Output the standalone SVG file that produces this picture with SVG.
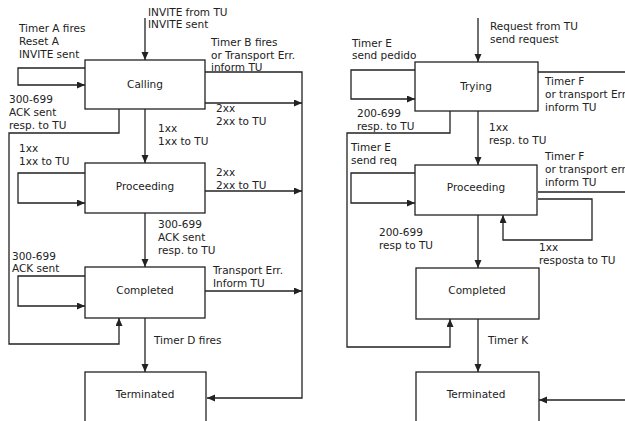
<svg xmlns="http://www.w3.org/2000/svg" width="625" height="421" viewBox="0 0 625 421">
<defs>
<marker id="arr" markerUnits="userSpaceOnUse" markerWidth="9" markerHeight="8" refX="8" refY="3.5" orient="auto">
<path d="M0,0 L8,3.5 L0,7 z" fill="#222"/>
</marker>
<style>
.box{fill:#fff;stroke:#222;stroke-width:1.3}
.c{fill:none;stroke:#222;stroke-width:1.3}
.a{marker-end:url(#arr)}
text{font-family:"DejaVu Sans",Verdana,sans-serif;font-size:10.5px;fill:#222}
.m{text-anchor:middle}
</style>
</defs>
<rect width="625" height="421" fill="#fff"/>
<g id="connectors">
<path class="c a" d="M145,18 L145,60"/>
<path class="c a" d="M85,68 L18,68 L18,85 L85,85"/>
<path class="c a" d="M119,109 L119,133 L9,133 L9,344 L119,344 L119,318"/>
<path class="c a" d="M205,72 L302,72 L302,398 L207,398"/>
<path class="c a" d="M205,103 L302,103"/>
<path class="c a" d="M145,109 L145,163"/>
<path class="c a" d="M85,173 L18,173 L18,203 L85,203"/>
<path class="c a" d="M205,191 L302,191"/>
<path class="c a" d="M145,213 L145,267"/>
<path class="c a" d="M85,276 L18,276 L18,306 L85,306"/>
<path class="c a" d="M205,291 L302,291"/>
<path class="c a" d="M145,318 L145,372"/>
<path class="c a" d="M478,18 L478,62"/>
<path class="c a" d="M415,70 L351,70 L351,99 L415,99"/>
<path class="c a" d="M450,111 L450,133 L347,133 L347,347 L450,347 L450,319"/>
<path class="c" d="M538,72 L625,72"/>
<path class="c a" d="M478,111 L478,165"/>
<path class="c a" d="M415,173 L351,173 L351,203 L415,203"/>
<path class="c" d="M538,192 L625,192"/>
<path class="c a" d="M538,199 L592,199 L592,240 L503,240 L503,215"/>
<path class="c a" d="M478,215 L478,268"/>
<path class="c a" d="M478,319 L478,372"/>
<path class="c a" d="M625,400 L539,400"/>
</g>
<g id="labels">
<text x="148" y="16">INVITE from TU</text>
<text x="148" y="28">INVITE sent</text>
<text x="19" y="32">Timer A fires</text>
<text x="19" y="45">Reset A</text>
<text x="19" y="58">INVITE sent</text>
<text x="211" y="46">Timer B fires</text>
<text x="211" y="59">or Transport Err.</text>
<text x="211" y="71">inform TU</text>
<text x="9" y="103">300-699</text>
<text x="9" y="116">ACK sent</text>
<text x="9" y="129">resp. to TU</text>
<text x="216" y="112">2xx</text>
<text x="216" y="125">2xx to TU</text>
<text x="158" y="132">1xx</text>
<text x="158" y="145">1xx to TU</text>
<text x="19" y="152">1xx</text>
<text x="19" y="165">1xx to TU</text>
<text x="216" y="176">2xx</text>
<text x="216" y="189">2xx to TU</text>
<text x="158" y="228">300-699</text>
<text x="158" y="241">ACK sent</text>
<text x="158" y="254">resp. to TU</text>
<text x="12" y="260">300-699</text>
<text x="12" y="272">ACK sent</text>
<text x="213" y="274">Transport Err.</text>
<text x="213" y="287">Inform TU</text>
<text x="154" y="344">Timer D fires</text>
<text x="490" y="30">Request from TU</text>
<text x="490" y="43">send request</text>
<text x="352" y="47">Timer E</text>
<text x="352" y="59">send pedido</text>
<text x="545" y="85">Timer F</text>
<text x="545" y="98">or transport Err</text>
<text x="545" y="111">inform TU</text>
<text x="357" y="117">200-699</text>
<text x="357" y="130">resp. to TU</text>
<text x="489" y="131">1xx</text>
<text x="489" y="144">resp. to TU</text>
<text x="351" y="151">Timer E</text>
<text x="351" y="164">send req</text>
<text x="545" y="160">Timer F</text>
<text x="545" y="173">or transport err</text>
<text x="545" y="186">inform TU</text>
<text x="379" y="236">200-699</text>
<text x="379" y="249">resp to TU</text>
<text x="539" y="251">1xx</text>
<text x="539" y="264">resposta to TU</text>
<text x="488" y="344">Timer K</text>
</g>
<g id="calling"><rect class="box" x="85" y="60" width="120" height="49"/><text class="m" x="145" y="88">Calling</text></g>
<g id="proceeding"><rect class="box" x="85" y="163" width="120" height="50"/><text class="m" x="145" y="190">Proceeding</text></g>
<g id="completed"><rect class="box" x="85" y="267" width="120" height="51"/><text class="m" x="145" y="294">Completed</text></g>
<g id="terminated"><rect class="box" x="85" y="372" width="121" height="60"/><text class="m" x="145" y="398">Terminated</text></g>
<g id="trying"><rect class="box" x="415" y="62" width="123" height="49"/><text class="m" x="476" y="90">Trying</text></g>
<g id="proceeding2"><rect class="box" x="415" y="165" width="122" height="50"/><text class="m" x="476" y="191">Proceeding</text></g>
<g id="completed2"><rect class="box" x="416" y="268" width="123" height="51"/><text class="m" x="477" y="294">Completed</text></g>
<g id="terminated2"><rect class="box" x="416" y="372" width="123" height="60"/><text class="m" x="476" y="398">Terminated</text></g>
</svg>
